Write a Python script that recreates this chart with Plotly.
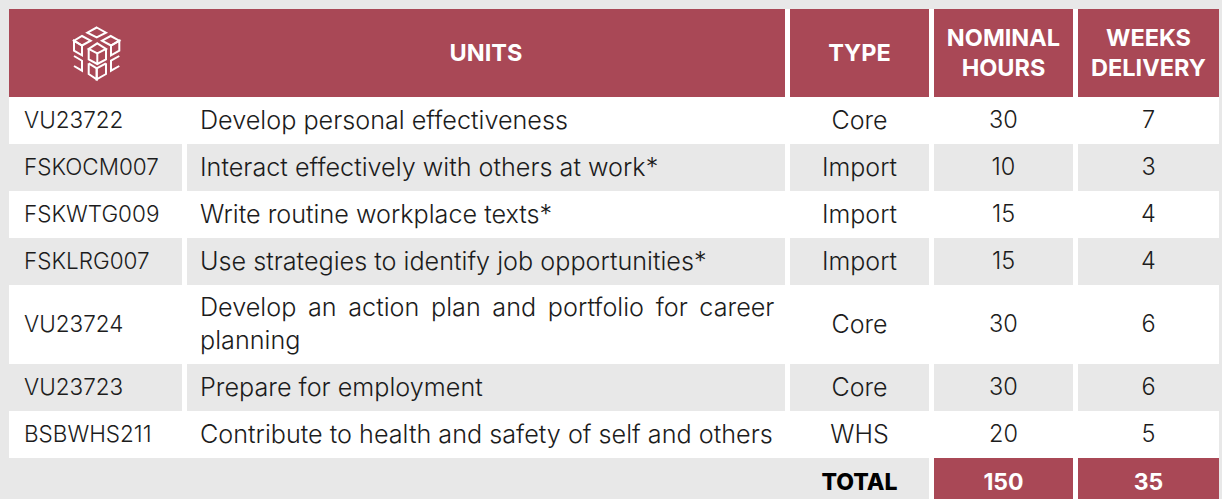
import plotly.graph_objects as go

codes = ["VU23722", "FSKOCM007", "FSKWTG009", "FSKLRG007", "VU23724", "VU23723", "BSBWHS211"]
units = ["Develop personal effectiveness", "Interact effectively with others at work*",
         "Write routine workplace texts*", "Use strategies to identify job opportunities*",
         "Develop \u2009an \u2009action \u2009plan \u2009and \u2009portfolio \u2009for \u2009career<br>planning",
         "Prepare for employment",
         "Contribute to health and safety of self and others"]
types = ["Core", "Import", "Import", "Import", "Core", "Core", "WHS"]
hours = [30, 10, 15, 15, 30, 30, 20]
weeks = [7, 3, 4, 4, 6, 6, 5]
headers = ["UNITS", "TYPE", "NOMINAL<br>HOURS", "WEEKS<br>DELIVERY"]
total_label = "TOTAL"
total_hours = 150
total_weeks = 35

RED, GREY, WHITE, INK = "#a94856", "#e8e8e8", "#ffffff", "#1c1c1c"
FONT = "Inter"
cols = [(9, 182), (187, 785), (790, 929), (934, 1073), (1078, 1219)]
mid = [(a + b) / 2 for a, b in cols]
top, head_h, total_h = 9, 88, 41


def rect(x0, x1, y0, y1, color):
    return dict(type="rect", x0=x0, x1=x1, y0=y0, y1=y1, fillcolor=color, line_width=0, layer="below")


shapes = [rect(cols[0][0], cols[-1][1], top, top + head_h, WHITE),
          rect(cols[0][0], cols[1][1], top, top + head_h, RED)]
shapes += [rect(a, b, top, top + head_h, RED) for a, b in cols[2:]]
y = top + head_h
row_mid = []
for i, u in enumerate(units):
    h = 15 + 32 * (u.count("<br>") + 1)
    row_mid.append(y + h / 2)
    shapes.append(rect(cols[0][0], cols[-1][1], y, y + h, WHITE))
    if i % 2 == 1:
        shapes += [rect(a, b, y, y + h, GREY) for a, b in cols]
    y += h
shapes.append(rect(cols[3][0], cols[3][1], y, y + total_h, RED))
shapes.append(rect(cols[4][0], cols[4][1], y, y + total_h, RED))
shapes.append(rect(cols[2][1], cols[3][0], y, y + total_h, WHITE))
shapes.append(rect(cols[3][1], cols[4][0], y, y + total_h, WHITE))

# header icon: outlined cubes (coordinates in reference pixels)
icon = [
    [(96.7, 27.5), (106, 32.7), (96.7, 37.5), (87.3, 32.7)],
    [(82, 36), (90.7, 40.7), (82, 45.5), (74, 40.7)],
    [(74, 40.7), (74, 50.7), (82, 55.3), (82, 45.5)],
    [(110.7, 36), (119.3, 40.7), (111, 45.5), (102, 40.7)],
    [(119.3, 40.7), (119.3, 50.7), (111, 55.3), (111, 45.5)],
    [(97.3, 43.3), (106, 49), (97.3, 53.3), (88.7, 49)],
    [(88.7, 49), (88.7, 59.3), (97.3, 64), (106, 59.3), (106, 49)],
    [(97.3, 53.3), (97.3, 64)],
    [(74, 56), (82, 60.7), (82, 70.7), (74, 66)],
    [(119.3, 56), (111, 60.7), (111, 70.7), (119.3, 66)],
    [(88.7, 63.3), (96.7, 68.3), (96.7, 79.3), (88.7, 74), (88.7, 63.3)],
    [(106, 63.3), (96.7, 68.3), (96.7, 79.3), (106, 74), (106, 63.3)],
]
for poly in icon:
    closed = len(poly) == 4 and poly[0][1] < 45
    path = "M" + " L".join(f"{px},{py}" for px, py in poly) + (" Z" if closed else "")
    shapes.append(dict(type="path", path=path, line=dict(color=WHITE, width=2), layer="above"))

fig = go.Figure()


def add_text(xs, ys, texts, pos, color, size, weight):
    fig.add_trace(go.Scatter(x=xs, y=ys, text=texts, mode="text", textposition=pos, cliponaxis=False,
                             textfont=dict(family=FONT, size=size, color=color, weight=weight),
                             hoverinfo="skip", showlegend=False))


n = len(codes)
body_y = [v + 2 for v in row_mid]
head_y = top + head_h / 2 + 2
add_text(mid[1:], [head_y] * 4, headers, "middle center", WHITE, 23.5, 700)
add_text([24] * n, body_y, codes, "middle right", INK, 22.5, 300)
add_text([200] * n, body_y, units, "middle right", INK, 25.2, 300)
add_text([mid[2]] * n, body_y, types, "middle center", INK, 25, 300)
add_text([mid[3]] * n, body_y, [str(v) for v in hours], "middle center", INK, 23.5, 300)
add_text([mid[4]] * n, body_y, [str(v) for v in weeks], "middle center", INK, 23.5, 300)
total_y = y + total_h / 2 + 6
add_text([mid[2]], [total_y], [total_label], "middle center", "#000000", 23, 800)
add_text(mid[3:], [total_y] * 2, [str(total_hours), str(total_weeks)], "middle center", WHITE, 23, 700)

fig.update_layout(width=1222, height=499, margin=dict(l=0, r=0, t=0, b=0), paper_bgcolor=GREY, plot_bgcolor=GREY,
                  shapes=shapes, showlegend=False,
                  xaxis=dict(range=[0, 1222], visible=False, fixedrange=True),
                  yaxis=dict(range=[499, 0], visible=False, fixedrange=True))
fig.write_html("out.html", config=dict(displayModeBar=False),
               post_script="document.body.style.margin='0';document.body.style.background='#e8e8e8';")
